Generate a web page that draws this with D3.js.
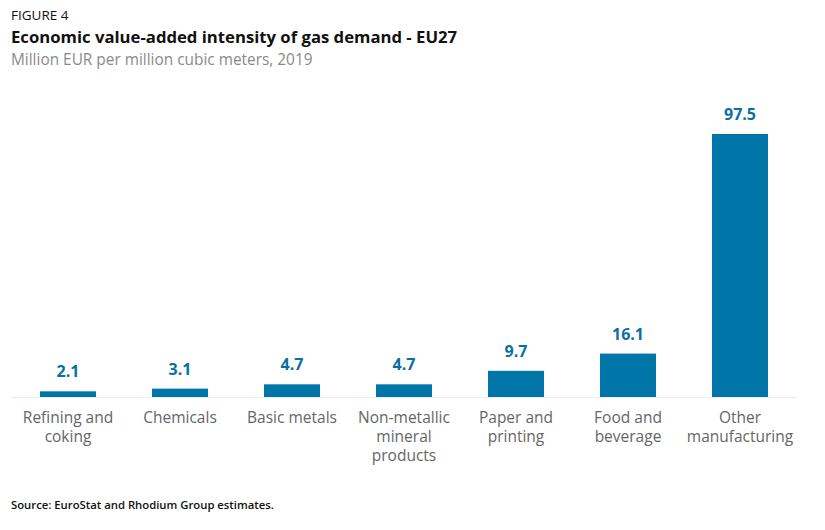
<!DOCTYPE html>
<html><head><meta charset="utf-8">
<script src="https://cdn.jsdelivr.net/npm/d3@7"></script>
<style>body{margin:0;background:#fff;} svg{display:block;font-family:"Open Sans",sans-serif;}</style>
</head><body><svg id="c" width="825" height="530"></svg>
<script>
const categories = [["Refining and","coking"],["Chemicals"],["Basic metals"],["Non-metallic","mineral","products"],["Paper and","printing"],["Food and","beverage"],["Other","manufacturing"]];
const values = [2.1, 3.1, 4.7, 4.7, 9.7, 16.1, 97.5];
const labels = ["2.1","3.1","4.7","4.7","9.7","16.1","97.5"];

const svg = d3.select("#c");
const baseY = 397, topY = 134;
const x = d3.scaleBand().domain(d3.range(values.length)).range([12, 796]).paddingInner(0.5).paddingOuter(0.25);
const y = d3.scaleLinear().domain([0, 97.5]).range([baseY, topY]);

svg.append("text").attr("x",11).attr("y",20).attr("font-size",13.5).attr("fill","#111").text("FIGURE 4");
svg.append("text").attr("x",11).attr("y",43).attr("font-size",16.7).attr("font-weight","bold").attr("fill","#111").text("Economic value-added intensity of gas demand - EU27");
svg.append("text").attr("x",11).attr("y",65).attr("font-size",15.4).attr("fill","#8a8a8a").text("Million EUR per million cubic meters, 2019");

svg.selectAll("rect.bar").data(values).join("rect").attr("class","bar")
  .attr("x",(d,i)=>x(i)).attr("width",x.bandwidth())
  .attr("y",d=>y(d)).attr("height",d=>baseY-y(d)).attr("fill","#0076a8");

svg.append("line").attr("x1",11).attr("x2",797).attr("y1",baseY+0.5).attr("y2",baseY+0.5).attr("stroke","#ececec");

svg.selectAll("text.val").data(values).join("text").attr("class","val")
  .attr("x",(d,i)=>x(i)+x.bandwidth()/2).attr("y",d=>y(d)-14)
  .attr("text-anchor","middle").attr("font-size",16).attr("font-weight","bold").attr("fill","#0b6fa3")
  .text((d,i)=>labels[i]);

const lines = [];
categories.forEach((c,i)=>c.forEach((t,j)=>lines.push({i,j,t})));
svg.selectAll("text.cat").data(lines).join("text").attr("class","cat")
  .attr("x",d=>x(d.i)+x.bandwidth()/2).attr("y",d=>423+d.j*19)
  .attr("text-anchor","middle").attr("font-size",15.5).attr("fill","#666")
  .text(d=>d.t);

svg.append("text").attr("x",11).attr("y",509).attr("font-size",11.3).attr("font-weight",600).attr("fill","#111").text("Source: EuroStat and Rhodium Group estimates.");
</script></body></html>
